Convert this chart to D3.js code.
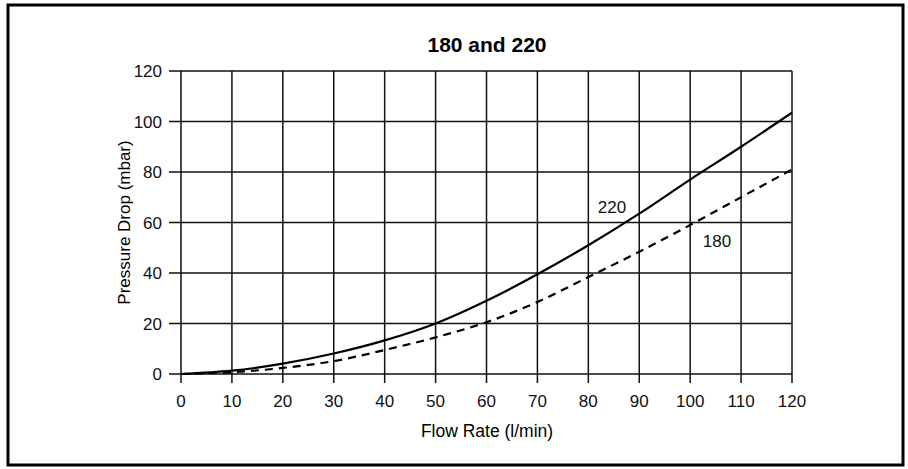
<!DOCTYPE html>
<html lang="en">
<head>
    <meta charset="UTF-8">
    <title>180 and 220</title>
    <script src="https://d3js.org/d3.v7.min.js"></script>
    <style>
        body { margin: 0; background: #fff; }
        svg { display: block; font-family: Arial, "Liberation Sans", sans-serif; }
        .grid line { stroke: #111; stroke-width: 1.5px; }
        .tick-label { font-size: 17px; fill: #111; }
        .curve { fill: none; stroke: #000; stroke-width: 2.2px; }
    </style>
</head>
<body>
    <svg id="chart" width="908" height="469"></svg>
    <script>
        // data
        const flowRates = [0, 10, 20, 30, 40, 50, 60, 70, 80, 90, 100, 110, 120];
        const drop220 = [0, 1.3, 4.1, 8.1, 13.3, 20, 29, 39.5, 51, 63.5, 77, 90, 103.5];
        const drop180 = [0, 0.7, 2.4, 5.1, 9.5, 14.5, 20.5, 28.5, 38.4, 48.4, 59, 70, 81];
        const xTicks = [0, 10, 20, 30, 40, 50, 60, 70, 80, 90, 100, 110, 120];
        const yTicks = [0, 20, 40, 60, 80, 100, 120];

        const svg = d3.select('#chart');

        // outer frame
        svg.append('rect')
            .attr('x', 8).attr('y', 5)
            .attr('width', 895).attr('height', 460)
            .attr('fill', 'none').attr('stroke', '#000').attr('stroke-width', 3);

        const x = d3.scaleLinear().domain([0, 120]).range([181, 792]);
        const y = d3.scaleLinear().domain([0, 120]).range([374, 71]);

        // grid + ticks
        const grid = svg.append('g').attr('class', 'grid');
        grid.selectAll('.vline').data(xTicks).enter().append('line')
            .attr('x1', d => x(d)).attr('x2', d => x(d))
            .attr('y1', y(120)).attr('y2', y(0) + 9);
        grid.selectAll('.hline').data(yTicks).enter().append('line')
            .attr('x1', x(0) - 12).attr('x2', x(120))
            .attr('y1', d => y(d)).attr('y2', d => y(d));

        svg.selectAll('.xlab').data(xTicks).enter().append('text')
            .attr('class', 'tick-label')
            .attr('x', d => x(d)).attr('y', 407)
            .attr('text-anchor', 'middle')
            .text(d => d);

        svg.selectAll('.ylab').data(yTicks).enter().append('text')
            .attr('class', 'tick-label')
            .attr('x', 162).attr('y', d => y(d) + 6)
            .attr('text-anchor', 'end')
            .text(d => d);

        // curves
        const line = d3.line()
            .x(d => x(d[0]))
            .y(d => y(d[1]))
            .curve(d3.curveMonotoneX);

        svg.append('path')
            .attr('class', 'curve')
            .attr('d', line(flowRates.map((f, i) => [f, drop220[i]])));

        svg.append('path')
            .attr('class', 'curve')
            .attr('stroke-dasharray', '8,6')
            .attr('d', line(flowRates.map((f, i) => [f, drop180[i]])));

        // curve labels
        svg.append('text').attr('class', 'tick-label')
            .attr('x', 612).attr('y', 213).attr('text-anchor', 'middle').text('220');
        svg.append('text').attr('class', 'tick-label')
            .attr('x', 717).attr('y', 247).attr('text-anchor', 'middle').text('180');

        // titles
        svg.append('text')
            .attr('x', 487).attr('y', 52)
            .attr('text-anchor', 'middle')
            .attr('font-size', '21px').attr('font-weight', 'bold')
            .text('180 and 220');

        svg.append('text')
            .attr('x', 487).attr('y', 437)
            .attr('text-anchor', 'middle')
            .attr('font-size', '17.5px')
            .text('Flow Rate (l/min)');

        svg.append('text')
            .attr('transform', 'translate(130,' + y(60) + ') rotate(-90)')
            .attr('text-anchor', 'middle')
            .attr('font-size', '17px')
            .text('Pressure Drop (mbar)');
    </script>
</body>
</html>
